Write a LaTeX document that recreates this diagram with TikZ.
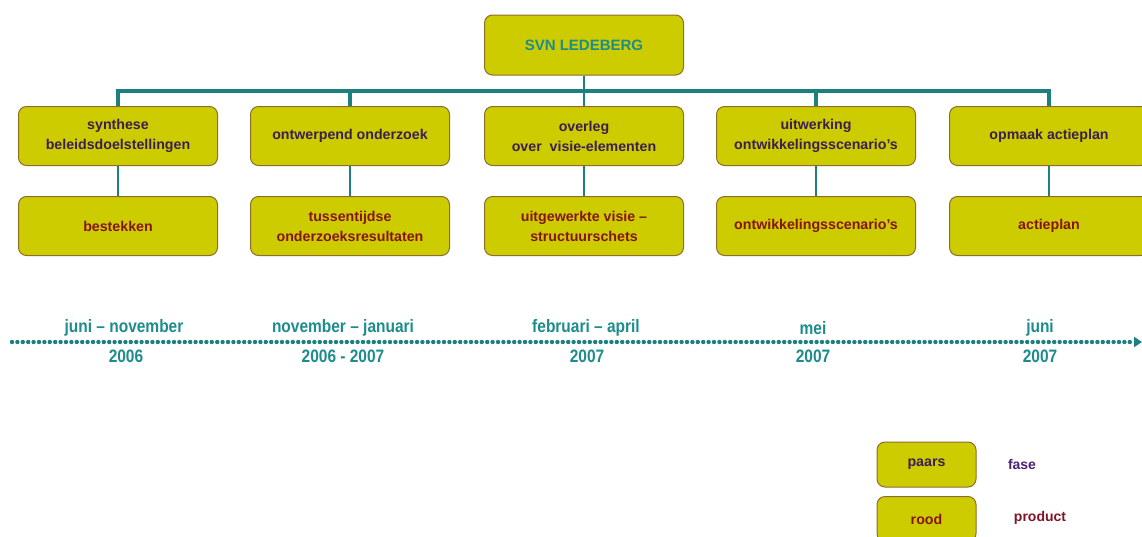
\documentclass[tikz,border=0pt]{standalone}
\usepackage{fontspec}
\setmainfont{Liberation Sans}
\newfontfamily\narrowfont[FakeStretch=0.86]{Liberation Sans}
\usetikzlibrary{arrows.meta}
\definecolor{boxfill}{RGB}{204,204,0}
\definecolor{boxline}{RGB}{140,110,40}
\definecolor{tealline}{RGB}{28,128,128}
\definecolor{tealtext}{RGB}{30,140,140}
\definecolor{purpletext}{RGB}{60,30,80}
\definecolor{redtext}{RGB}{135,20,20}
\definecolor{fasetext}{RGB}{75,35,115}
\definecolor{producttext}{RGB}{130,20,40}
\tikzset{
  box/.style={draw=boxline, fill=boxfill, rounded corners=8pt, line width=1pt,
    minimum width=199pt, minimum height=59pt, inner sep=0pt, align=center,
    font=\bfseries\fontsize{14.2}{20}\selectfont},
  phase/.style={box, text=purpletext},
  product/.style={box, text=redtext},
  conn/.style={draw=tealline, line width=3.2pt},
  tlabel/.style={text=tealtext, inner sep=0pt, font=\narrowfont\bfseries\fontsize{18}{20}\selectfont},
  legbox/.style={box, minimum width=99pt, minimum height=45pt}
}
\begin{document}
\begin{tikzpicture}[x=1pt,y=-1pt]
\useasboundingbox (0,0) rectangle (1142,536);
\clip (0,0) rectangle (1142,536);
\fill[white] (0,0) rectangle (1142,536);

\node[box, minimum height=60pt, text=tealtext, font=\bfseries\fontsize{15}{18}\selectfont] (top) at (584,45) {SVN LEDEBERG};

\node[phase] (p1) at (118,136) {synthese\\beleidsdoelstellingen};
\node[phase] (p2) at (350,136) {ontwerpend onderzoek};
\node[phase] (p3) at (584,136) {overleg\\over~~visie-elementen};
\node[phase] (p4) at (816,136) {uitwerking\\ontwikkelingsscenario’s};
\node[phase] (p5) at (1049,136) {opmaak actieplan};

\node[product] (r1) at (118,226) {bestekken};
\node[product] (r2) at (350,226) {tussentijdse\\onderzoeksresultaten};
\node[product] (r3) at (584,226) {uitgewerkte visie –\\structuurschets};
\node[product] (r4) at (816,226) {ontwikkelingsscenario’s};
\node[product] (r5) at (1049,226) {actieplan};

\draw[conn] (p1.north) -- ++(0,-15) -| (p5.north);
\draw[conn] (p2.north) -- ++(0,-15);
\draw[conn] (p4.north) -- ++(0,-15);
\draw[conn, line width=2.6pt] (top.south) -- (p3.north);
\foreach \i in {1,...,5}{
  \draw[conn, line width=2.6pt] (p\i.south) -- (r\i.north);
}

\coordinate (tl) at (12,342);
\coordinate (tr) at (1142,342);
\draw[draw=tealline, line width=4.4pt, line cap=round, dash pattern=on 0pt off 5.4pt,
  -{Triangle[length=8pt,width=10pt,fill=tealline]}] (tl) -- (tr);

\node[tlabel] (a1) at (124,328) {juni – november};
\node[tlabel] (a2) at (343,328) {november – januari};
\node[tlabel] (a3) at (586,328) {februari – april};
\node[tlabel] (a4) at (813,328) {mei};
\node[tlabel] (a5) at (1040,328) {juni};
\node[tlabel] (b1) at (126,356) {2006};
\node[tlabel] (b2) at (343,356) {2006 - 2007};
\node[tlabel] (b3) at (587,356) {2007};
\node[tlabel] (b4) at (813,356) {2007};
\node[tlabel] (b5) at (1040,356) {2007};

\node[legbox, text=purpletext] (l1) at (926.5,464.5) {paars};
\node[legbox, text=redtext] (l2) at (926.5,519) {rood};
\node[text=fasetext, font=\bfseries\fontsize{14}{16}\selectfont] (f1) at (1022,464) {fase};
\node[text=producttext, font=\bfseries\fontsize{14}{16}\selectfont] (f2) at (1040,518) {product};
\end{tikzpicture}
\end{document}
